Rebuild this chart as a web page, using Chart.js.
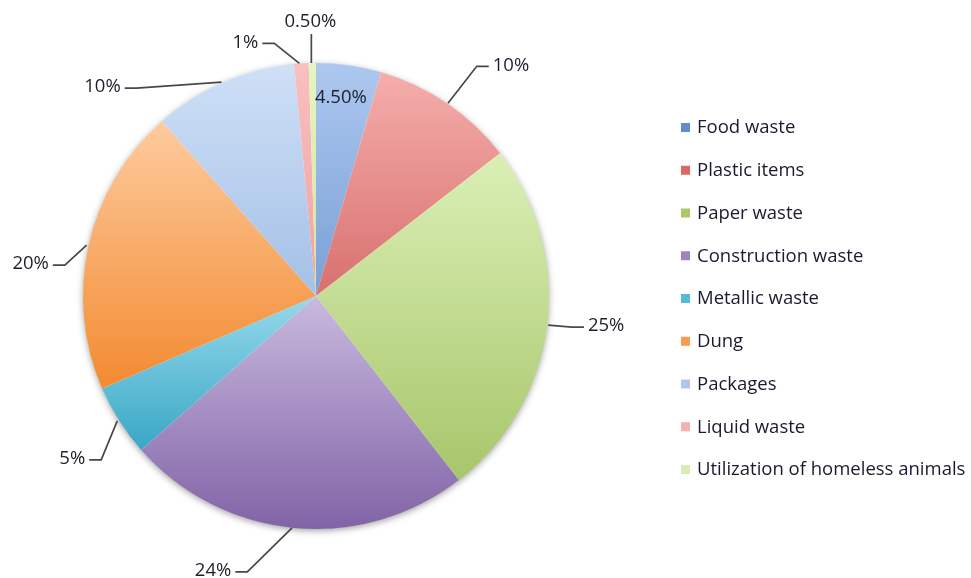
<!DOCTYPE html>
<html>
<head>
<meta charset="utf-8">
<script src="https://cdn.jsdelivr.net/npm/chart.js@4.4.1/dist/chart.umd.min.js"></script>
<style>
  html, body { margin: 0; padding: 0; background: #ffffff; }
  #wrap { width: 971px; height: 578px; }
</style>
</head>
<body>
<div id="wrap"><canvas id="myChart" width="971" height="578"></canvas></div>
<script>
// Datos del gráfico
const categories = ['Food waste', 'Plastic items', 'Paper waste', 'Construction waste', 'Metallic waste',
                    'Dung', 'Packages', 'Liquid waste', 'Utilization of homeless animals'];
const shares = [4.5, 10, 25, 24, 5, 20, 10, 1, 0.5];
const shareLabels = ['4.50%', '10%', '25%', '24%', '5%', '20%', '10%', '1%', '0.50%'];

// Colores (parte clara arriba, oscura abajo)
const topColors = ['#adc8ef', '#f5aeab', '#dbefb6', '#c9badf', '#96d9ec', '#fdcb9e', '#cfe0f7', '#f8c0c0', '#e6f5c2'];
const bottomColors = ['#799fd6', '#d8706e', '#a7c66a', '#8163a6', '#38a7c4', '#f38a30', '#a4c0e6', '#f0a0a2', '#cde59a'];
const legendColors = ['#5f8ccb', '#dc6763', '#a9c867', '#9c85bf', '#53bcd5', '#f89c52', '#aec8ec', '#f4b0b2', '#d9edb2'];

// Posición de cada etiqueta respecto al borde del sector
const labelOffsets = [[-8, 32], [64, -38], [59, 1], [-81, 43], [-47, 38], [-58, 19], [-121, 5], [-56, -21], [-2, -41]];
const leaderKind = ['none', 'side', 'side', 'side', 'side', 'side', 'side', 'side', 'vertical'];

const FONT = '"Open Sans", "DejaVu Sans", sans-serif';

// Degradado vertical sobre la caja de cada sector
function sliceGradient(context) {
    const chart = context.chart;
    const i = context.dataIndex;
    const area = chart.chartArea;
    if (!area) return topColors[i];
    const cx = (area.left + area.right) / 2;
    const cy = (area.top + area.bottom) / 2;
    const r = Math.min(area.right - area.left, area.bottom - area.top) / 2;
    const total = shares.reduce((a, b) => a + b, 0);
    let before = 0;
    for (let k = 0; k < i; k++) before += shares[k];
    const a0 = -Math.PI / 2 + before / total * Math.PI * 2;
    const a1 = a0 + shares[i] / total * Math.PI * 2;
    let minY = cy, maxY = cy;
    for (let s = 0; s <= 60; s++) {
        const a = a0 + (a1 - a0) * s / 60;
        const y = cy + r * Math.sin(a);
        minY = Math.min(minY, y);
        maxY = Math.max(maxY, y);
    }
    const g = chart.ctx.createLinearGradient(0, minY, 0, maxY + 1);
    g.addColorStop(0, topColors[i]);
    g.addColorStop(1, bottomColors[i]);
    return g;
}

// Sombra suave detrás del pastel
const pieShadow = {
    id: 'pieShadow',
    beforeDatasetsDraw(chart) {
        const arc = chart.getDatasetMeta(0).data[0];
        if (!arc) return;
        const ctx = chart.ctx;
        ctx.save();
        ctx.shadowColor = 'rgba(0,0,0,0.4)';
        ctx.shadowBlur = 7;
        ctx.shadowOffsetY = 2;
        ctx.fillStyle = '#ffffff';
        ctx.beginPath();
        ctx.arc(arc.x, arc.y, arc.outerRadius - 0.5, 0, Math.PI * 2);
        ctx.fill();
        ctx.restore();
    }
};

// Etiquetas de porcentaje con líneas guía
const sliceLabels = {
    id: 'sliceLabels',
    afterDatasetsDraw(chart) {
        const ctx = chart.ctx;
        const meta = chart.getDatasetMeta(0);
        ctx.save();
        ctx.font = '18.5px ' + FONT;
        ctx.textBaseline = 'middle';
        ctx.textAlign = 'center';
        meta.data.forEach(function(arc, i) {
            const p = arc.getProps(['x', 'y', 'startAngle', 'endAngle', 'outerRadius'], true);
            const mid = (p.startAngle + p.endAngle) / 2;
            const ex = p.x + p.outerRadius * Math.cos(mid);
            const ey = p.y + p.outerRadius * Math.sin(mid);
            const lx = ex + labelOffsets[i][0];
            const ly = ey + labelOffsets[i][1];
            const w = ctx.measureText(shareLabels[i]).width;

            ctx.strokeStyle = '#484848';
            ctx.lineWidth = 1.7;
            if (leaderKind[i] === 'side') {
                const left = lx < ex;
                const tailEnd = left ? lx + w / 2 + 4 : lx - w / 2 - 4;
                const tailStart = left ? tailEnd + 12 : tailEnd - 12;
                ctx.beginPath();
                ctx.moveTo(ex + (left ? -2 : 1), ey);
                ctx.lineTo(tailStart, ly + 1);
                ctx.lineTo(tailEnd, ly + 1);
                ctx.stroke();
            } else if (leaderKind[i] === 'vertical') {
                ctx.beginPath();
                ctx.moveTo(ex - 1, ly + 12);
                ctx.lineTo(ex - 1, ey);
                ctx.stroke();
            }
            ctx.fillStyle = '#1e1e2c';
            ctx.fillText(shareLabels[i], lx, ly);
        });
        ctx.restore();
    }
};

// Leyenda a la derecha
const sideLegend = {
    id: 'sideLegend',
    afterDraw(chart) {
        const ctx = chart.ctx;
        ctx.save();
        ctx.font = '18.5px ' + FONT;
        ctx.textBaseline = 'middle';
        ctx.textAlign = 'left';
        categories.forEach(function(name, i) {
            const y = 128 + i * 42.75;
            ctx.fillStyle = legendColors[i];
            ctx.fillRect(681, y - 5, 9, 9);
            ctx.fillStyle = '#1a1a30';
            ctx.fillText(name, 697, y);
        });
        ctx.restore();
    }
};

const ctx = document.getElementById('myChart').getContext('2d');
const myChart = new Chart(ctx, {
    type: 'pie',
    data: {
        labels: categories,
        datasets: [{
            data: shares,
            backgroundColor: sliceGradient,
            borderWidth: 0
        }]
    },
    options: {
        responsive: false,
        animation: false,
        layout: { padding: { left: 83, right: 422, top: 63, bottom: 49 } },
        plugins: {
            legend: { display: false },
            tooltip: { enabled: false }
        }
    },
    plugins: [pieShadow, sliceLabels, sideLegend]
});
</script>
</body>
</html>
